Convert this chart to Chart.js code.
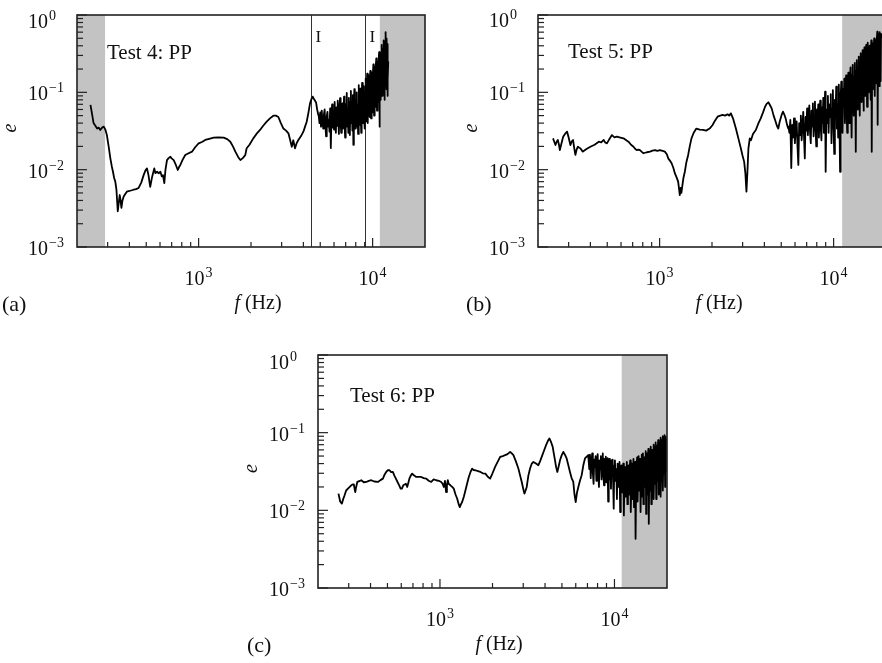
<!DOCTYPE html>
<html lang="en">
<head>
<meta charset="UTF-8">
<title>e against f, tests 4 to 6</title>
<script src="https://cdn.jsdelivr.net/npm/chart.js@4"></script>
<style>
  body { margin: 0; background: #fff; width: 882px; height: 663px; overflow: hidden; position: relative; }
  canvas { position: absolute; }
</style>
</head>
<body>
<canvas id="panelA" width="441" height="330" style="left:0;top:0"></canvas>
<canvas id="panelB" width="460" height="330" style="left:441px;top:0"></canvas>
<canvas id="panelC" width="460" height="333" style="left:220px;top:330px"></canvas>
<script>
// axis ticks
const decadesY = [1e-3, 1e-2, 1e-1, 1];
const decadeYLabels = ['\u22123', '\u22122', '\u22121', '0'];
const decadesX = [1e3, 1e4];
const decadeXLabels = ['3', '4'];
const minorX = [300, 400, 500, 600, 700, 800, 900, 2000, 3000, 4000, 5000, 6000, 7000, 8000, 9000];

// [f (Hz), e]
const test4 = [
  [239,.069],[245,.050],[249,.040],[255,.037],[261,.034],[267,.035],[272,.0326],[279,.035],[285,.036],[291,.033],
  [297,.028],[304,.020],[311,.014],[317,.011],[322,.0094],[327,.0078],[332,.0070],[337,.0055],[343,.0029],[348,.0038],
  [352,.0047],[356,.0040],[360,.0032],[365,.0040],[371,.0045],[378,.0048],[387,.0052],[400,.0053],[423,.0055],[437,.0056],
  [452,.0058],[468,.0068],[483,.0085],[495,.0098],[505,.0104],[515,.0085],[527,.0060],[540,.0080],[556,.0104],[565,.0090],
  [577,.0094],[590,.0090],[603,.0094],[614,.0082],[624,.0085],[635,.0067],[645,.0100],[658,.0133],[670,.0140],[688,.0147],
  [700,.0140],[719,.0133],[740,.0115],[759,.0099],[772,.0108],[785,.0115],[810,.0135],[838,.0155],[870,.0162],[916,.0171],
  [955,.0195],[1000,.0219],[1045,.0228],[1092,.0242],[1150,.0250],[1221,.0259],[1300,.0262],[1393,.0259],[1460,.0248],[1521,.023],
  [1575,.020],[1626,.0171],[1690,.0145],[1738,.0133],[1800,.0142],[1855,.0155],[1888,.0189],[1960,.021],[2062,.0254],[2150,.029],
  [2254,.0326],[2350,.037],[2461,.0417],[2570,.046],[2688,.0499],[2780,.050],[2873,.048],[2970,.040],[3071,.034],[3180,.032],
  [3283,.0295],[3360,.024],[3431,.0198],[3500,.024],[3581,.0189],[3660,.022],[3743,.0242],[3870,.027],[4000,.031],[4090,.036],
  [4180,.0417],[4280,.055],[4368,.072],[4450,.082],[4525,.088],[4630,.080],[4731,.074],[4800,.060],[4876,.051],
  [4900,.050],[4950,.040],[5000,.055],[5050,.036],[5100,.058],[5150,.042],[5200,.034],[5250,.052],[5300,.060],[5350,.038],
  [5400,.027],[5450,.048],[5500,.056],[5550,.036],[5600,.044],[5650,.031],[5700,.062],[5750,.019],[5800,.048],[5850,.070],
  [5900,.035],[5950,.058],[6000,.033],[6050,.075],[6100,.042],[6150,.030],[6200,.064],[6250,.037],[6300,.078],[6350,.046],
  [6400,.029],[6450,.066],[6500,.084],[6550,.040],[6600,.030],[6650,.060],[6700,.072],[6750,.034],[6800,.052],[6850,.088],
  [6900,.038],[6950,.026],[7000,.070],[7050,.045],[7100,.098],[7150,.036],[7200,.062],[7250,.030],[7300,.085],[7350,.042],
  [7400,.028],[7450,.075],[7500,.104],[7550,.040],[7600,.066],[7650,.032],[7700,.092],[7750,.021],[7800,.058],[7850,.110],
  [7900,.044],[7950,.034],[8000,.080],[8050,.048],[8100,.100],[8150,.036],[8200,.070],[8250,.029],[8300,.124],[8350,.050],
  [8400,.038],[8450,.092],[8500,.112],[8550,.046],[8600,.030],[8650,.078],[8700,.132],[8750,.052],[8800,.040],[8850,.100],
  [8900,.120],[8950,.045],[9000,.034],[9050,.085],[9100,.150],[9150,.058],[9200,.042],[9250,.110],[9300,.175],[9350,.066],
  [9400,.040],[9450,.130],[9500,.165],[9550,.060],[9600,.048],[9650,.140],[9700,.190],[9750,.072],[9800,.046],[9850,.150],
  [9900,.180],[9950,.080],[10000,.055],[10050,.170],[10100,.230],[10150,.090],[10200,.050],[10250,.180],[10300,.210],[10350,.095],
  [10400,.065],[10450,.220],[10500,.275],[10550,.110],[10600,.058],[10650,.200],[10700,.250],[10750,.120],[10800,.075],[10850,.260],
  [10900,.330],[10950,.036],[11000,.150],[11050,.300],[11100,.120],[11150,.080],[11200,.330],[11250,.410],[11300,.140],[11350,.090],
  [11400,.360],[11450,.200],[11500,.100],[11550,.420],[11600,.470],[11650,.160],[11700,.080],[11750,.450],[11800,.250],[11850,.120],
  [11900,.600],[11950,.200],[12000,.110],[12050,.500],[12100,.300],[12150,.090],[12200,.420],[12250,.150],[12300,.250]
];

const test5 = [
  [244,.0254],[248,.023],[252,.0208],[256,.023],[260,.0242],[264,.021],[267,.0179],[273,.022],[279,.0267],[286,.029],
  [294,.031],[300,.026],[307,.0208],[312,.023],[318,.0242],[323,.019],[328,.0155],[333,.018],[339,.0198],[345,.0192],
  [350,.0189],[356,.018],[361,.0171],[380,.0185],[400,.0198],[423,.021],[447,.023],[462,.0225],[477,.0242],[487,.0225],
  [498,.0219],[515,.025],[532,.028],[550,.0262],[568,.0267],[595,.026],[620,.0254],[640,.0242],[662,.023],[685,.021],
  [708,.0198],[725,.0185],[739,.0179],[755,.0182],[771,.0179],[790,.017],[807,.0163],[845,.0168],[881,.0171],[910,.0176],
  [940,.0179],[970,.0175],[1004,.0179],[1040,.0175],[1072,.0171],[1100,.0158],[1121,.014],[1148,.013],[1172,.0121],[1200,.0105],
  [1223,.009],[1250,.008],[1278,.007],[1295,.0055],[1306,.0047],[1320,.0058],[1334,.005],[1348,.006],[1370,.0078],[1396,.0094],
  [1425,.0125],[1459,.0155],[1490,.020],[1524,.0254],[1570,.030],[1626,.034],[1700,.033],[1778,.0326],[1850,.032],[1938,.034],
  [2016,.0378],[2080,.043],[2153,.0484],[2230,.050],[2300,.051],[2380,.050],[2455,.052],[2510,.050],[2568,.0535],[2650,.045],
  [2744,.034],[2840,.025],[2929,.0189],[3000,.015],[3060,.0127],[3110,.009],[3155,.0052],[3200,.010],[3239,.0189],[3297,.0254],
  [3350,.024],[3440,.029],[3572,.0326],[3700,.040],[3811,.0461],[3930,.055],[4036,.0652],[4120,.071],[4217,.0743],[4310,.068],
  [4406,.062],[4520,.050],[4645,.0417],[4720,.037],[4809,.034],[4890,.041],[4961,.0461],[5040,.052],[5116,.0562],[5200,.052],
  [5300,.0461],[5400,.038],[5485,.034],
  [5500,.036],[5570,.030],[5640,.044],[5710,.0105],[5780,.038],[5850,.026],[5920,.046],[5990,.022],[6060,.034],[6130,.042],
  [6200,.020],[6270,.0115],[6340,.040],[6410,.028],[6480,.050],[6550,.024],[6620,.036],[6690,.056],[6760,.026],[6830,.014],
  [6900,.048],[6970,.032],[7040,.062],[7110,.028],[7180,.044],[7250,.068],[7320,.030],[7390,.022],[7460,.058],[7530,.036],
  [7600,.072],[7670,.027],[7740,.046],[7810,.076],[7880,.032],[7950,.020],[8020,.060],[8090,.038],[8160,.070],[8230,.026],
  [8300,.050],[8370,.078],[8440,.034],[8510,.024],[8580,.064],[8650,.040],[8720,.085],[8790,.030],[8860,.056],[8930,.102],
  [9000,.0094],[9090,.060],[9180,.040],[9270,.090],[9360,.030],[9450,.070],[9540,.048],[9630,.095],[9720,.022],[9810,.062],
  [9900,.107],[9990,.036],[10080,.016],[10170,.080],[10260,.050],[10350,.118],[10440,.034],[10530,.072],[10620,.026],[10710,.126],
  [10800,.044],[10890,.0094],[10980,.090],[11070,.137],[11160,.048],[11250,.030],[11340,.110],[11430,.070],[11520,.150],[11610,.040],
  [11700,.095],[11790,.165],[11880,.055],[11970,.030],[12060,.130],[12150,.180],[12240,.065],[12330,.040],[12420,.150],[12510,.210],
  [12600,.075],[12690,.026],[12780,.170],[12870,.226],[12960,.090],[13050,.050],[13140,.160],[13230,.240],[13320,.100],[13410,.017],
  [13500,.190],[13590,.260],[13680,.110],[13770,.060],[13860,.210],[13950,.290],[14040,.120],[14130,.050],[14220,.240],[14310,.320],
  [14400,.140],[14490,.075],[14580,.260],[14670,.350],[14760,.160],[14850,.058],[14940,.280],[15030,.380],[15120,.170],[15210,.090],
  [15300,.320],[15390,.410],[15480,.190],[15570,.065],[15660,.300],[15750,.440],[15840,.200],[15930,.100],[16020,.360],[16110,.400],
  [16200,.210],[16290,.080],[16380,.340],[16470,.470],[16560,.017],[16650,.260],[16740,.430],[16830,.220],[16920,.110],[17010,.380],
  [17100,.500],[17190,.240],[17280,.090],[17370,.420],[17460,.470],[17550,.260],[17640,.130],[17730,.460],[17820,.610],[17910,.038],
  [18000,.300],[18090,.560],[18180,.250],[18270,.120],[18360,.480],[18450,.600],[18540,.270],[18630,.140],[18720,.520],[18810,.580]
];

const test6 = [
  [262,.0164],[268,.013],[274,.0122],[279,.014],[284,.0156],[290,.018],[297,.019],[304,.020],[310,.021],[316,.0215],
  [321,.0215],[324,.019],[327,.0172],[331,.020],[336,.0232],[345,.0238],[354,.0244],[366,.023],[378,.0232],[391,.024],
  [404,.0244],[420,.0235],[441,.0232],[456,.0245],[471,.0256],[482,.029],[492,.0312],[503,.033],[514,.0328],[525,.031],
  [537,.0312],[548,.028],[559,.0256],[572,.023],[584,.021],[595,.019],[605,.019],[616,.021],[627,.0215],[638,.022],
  [649,.020],[660,.023],[668,.0256],[680,.028],[693,.0297],[712,.028],[731,.0269],[755,.027],[780,.0269],[807,.026],
  [834,.0256],[862,.024],[891,.0232],[920,.025],[951,.0244],[985,.024],[1016,.0232],[1035,.022],[1052,.020],[1068,.024],
  [1084,.0172],[1096,.021],[1109,.0244],[1120,.022],[1148,.021],[1175,.020],[1200,.019],[1228,.016],[1254,.0142],[1280,.012],
  [1299,.011],[1320,.012],[1340,.0128],[1370,.015],[1400,.0181],[1430,.022],[1463,.0269],[1495,.031],[1528,.0345],[1560,.033],
  [1596,.0328],[1650,.032],[1706,.0312],[1760,.030],[1821,.0297],[1880,.027],[1938,.0256],[2000,.030],[2070,.0362],[2140,.042],
  [2213,.0487],[2290,.050],[2361,.0513],[2440,.053],[2523,.0566],[2580,.054],[2636,.0513],[2720,.043],[2814,.0345],[2880,.028],
  [2942,.0232],[3000,.019],[3047,.0164],[3095,.018],[3142,.020],[3210,.028],[3283,.0345],[3360,.040],[3431,.042],[3550,.040],
  [3664,.0381],[3750,.043],[3828,.0487],[3940,.058],[4055,.069],[4150,.078],[4236,.0841],[4330,.076],[4426,.0656],[4490,.054],
  [4560,.0442],[4630,.036],[4705,.0312],[4790,.037],[4875,.0442],[4980,.051],[5093,.0566],[5200,.052],[5321,.0465],[5440,.038],
  [5559,.0312],[5680,.026],[5808,.0232],[5900,.016],[5995,.0128],[6100,.017],[6209,.020],[6340,.024],[6486,.0283],[6630,.038],
  [6776,.0465],[6930,.049],[7079,.0513],
  [7100,.046],[7170,.034],[7240,.052],[7310,.026],[7380,.040],[7450,.054],[7520,.030],[7590,.022],[7660,.045],[7730,.036],
  [7800,.050],[7870,.024],[7940,.038],[8010,.053],[8080,.029],[8150,.020],[8220,.044],[8290,.034],[8360,.050],[8430,.025],
  [8500,.040],[8570,.054],[8640,.028],[8710,.021],[8780,.046],[8850,.032],[8920,.049],[8990,.023],[9060,.037],[9130,.047],
  [9200,.013],[9270,.036],[9340,.046],[9410,.025],[9480,.040],[9550,.019],[9620,.044],[9690,.030],[9760,.045],[9830,.022],
  [9900,.0105],[9970,.038],[10060,.044],[10150,.024],[10240,.034],[10330,.014],[10420,.040],[10510,.020],[10600,.030],[10690,.042],
  [10780,.0095],[10870,.028],[10960,.038],[11050,.017],[11140,.032],[11230,.040],[11320,.0086],[11410,.026],[11500,.036],[11590,.015],
  [11680,.030],[11770,.042],[11860,.012],[11950,.024],[12040,.038],[12130,.016],[12220,.034],[12310,.044],[12400,.0095],[12490,.022],
  [12580,.040],[12670,.014],[12760,.030],[12850,.046],[12940,.011],[13030,.026],[13120,.042],[13210,.0043],[13300,.020],[13390,.036],
  [13480,.048],[13570,.013],[13660,.028],[13750,.050],[13840,.018],[13930,.034],[14020,.046],[14110,.0095],[14200,.026],[14290,.052],
  [14380,.015],[14470,.036],[14560,.054],[14650,.012],[14740,.024],[14830,.048],[14920,.020],[15010,.040],[15100,.058],[15190,.009],
  [15280,.030],[15370,.054],[15460,.016],[15550,.038],[15640,.062],[15730,.0067],[15820,.028],[15910,.058],[16000,.018],[16090,.042],
  [16180,.066],[16270,.012],[16360,.032],[16450,.060],[16540,.020],[16630,.045],[16720,.070],[16810,.014],[16900,.034],[16990,.064],
  [17080,.022],[17170,.048],[17260,.075],[17350,.014],[17440,.036],[17530,.068],[17620,.024],[17710,.052],[17800,.080],[17890,.016],
  [17980,.040],[18070,.074],[18160,.026],[18250,.056],[18340,.086],[18430,.015],[18520,.044],[18610,.080],[18700,.028],[18790,.060],
  [18880,.090],[18970,.018],[19060,.048],[19150,.084],[19240,.030],[19330,.064],[19420,.093],[19510,.020],[19600,.052],[19690,.088],
  [19780,.032],[19870,.068],[19960,.085]
];

// shaded bands and marker lines (Hz)
const shadeA = [[200, 290], [11000, 20000]];
const shadeB = [[11200, 20000]];
const shadeC = [[11000, 20000]];
const markLinesA = [4400, 9050];

const serif = '"Liberation Serif", "Times New Roman", serif';

function pow10(ctx, x, y, exp, centred) {
  ctx.font = '20px ' + serif;
  const wb = ctx.measureText('10').width;
  ctx.font = '14px ' + serif;
  const we = ctx.measureText(exp).width;
  const x0 = centred ? x - (wb + we + 1) / 2 : x;
  ctx.textAlign = 'left';
  ctx.textBaseline = 'alphabetic';
  ctx.font = '20px ' + serif;
  ctx.fillText('10', x0, y);
  ctx.font = '14px ' + serif;
  ctx.fillText(exp, x0 + wb + 1, y - 8);
}

function line(ctx, x0, y0, x1, y1) {
  ctx.beginPath();
  ctx.moveTo(x0, y0);
  ctx.lineTo(x1, y1);
  ctx.stroke();
}

function decoPlugin(cfg) {
  return {
    id: 'deco',
    beforeDatasetsDraw(chart) {
      const { ctx, chartArea: a, scales: { x } } = chart;
      ctx.save();
      ctx.fillStyle = '#c3c3c3';
      cfg.shade.forEach(([f0, f1]) => {
        const x0 = Math.max(a.left, x.getPixelForValue(f0));
        const x1 = Math.min(a.right, x.getPixelForValue(f1));
        ctx.fillRect(x0, a.top, x1 - x0, a.bottom - a.top);
      });
      ctx.strokeStyle = '#333';
      ctx.lineWidth = 1;
      ctx.fillStyle = '#111';
      ctx.font = '17px ' + serif;
      (cfg.marks || []).forEach(f => {
        const px = Math.round(x.getPixelForValue(f)) + 0.5;
        line(ctx, px, a.top, px, a.bottom);
        ctx.fillText('I', px + 4, a.top + 27);
      });
      ctx.restore();
    },
    afterDatasetsDraw(chart) {
      const { ctx, chartArea: a, scales: { x, y } } = chart;
      ctx.save();
      ctx.strokeStyle = '#222';
      ctx.fillStyle = '#111';
      // ticks
      ctx.lineWidth = 1.2;
      decadesY.forEach((d, i) => {
        const py = y.getPixelForValue(d);
        line(ctx, a.left, py, a.left + 10, py);
        if (i < decadesY.length - 1) {
          for (let k = 2; k <= 9; k++) {
            const pm = y.getPixelForValue(d * k);
            line(ctx, a.left, pm, a.left + 6, pm);
          }
        }
        pow10(ctx, a.left - 49, py + (i === decadesY.length - 1 ? cfg.topShift : 8), decadeYLabels[i], false);
      });
      decadesX.forEach((d, i) => {
        const px = x.getPixelForValue(d);
        line(ctx, px, a.bottom, px, a.bottom - 9);
        pow10(ctx, px, a.bottom + 38, decadeXLabels[i], true);
      });
      minorX.forEach(f => {
        const px = x.getPixelForValue(f);
        line(ctx, px, a.bottom, px, a.bottom - 5);
      });
      // frame
      ctx.lineWidth = 1.6;
      ctx.strokeRect(a.left, a.top, a.right - a.left, a.bottom - a.top);
      // texts
      ctx.textAlign = 'left';
      ctx.textBaseline = 'alphabetic';
      ctx.font = '21px ' + serif;
      ctx.fillText(cfg.title, a.left + cfg.titleDx, a.top + cfg.titleDy);
      ctx.font = '22px ' + serif;
      ctx.fillText(cfg.tag, a.left - cfg.tagDx, a.bottom + 64);
      ctx.font = 'italic 20px ' + serif;
      const wf = ctx.measureText('f').width;
      ctx.font = '20px ' + serif;
      const wr = ctx.measureText(' (Hz)').width;
      const cx = a.left + 181 - (wf + wr) / 2;
      ctx.font = 'italic 20px ' + serif;
      ctx.fillText('f', cx, a.bottom + 62);
      ctx.font = '20px ' + serif;
      ctx.fillText(' (Hz)', cx + wf, a.bottom + 62);
      ctx.translate(a.left - 66, (a.top + a.bottom) / 2 - 3);
      ctx.rotate(-Math.PI / 2);
      ctx.textAlign = 'center';
      ctx.textBaseline = 'middle';
      ctx.font = 'italic 20px ' + serif;
      ctx.fillText('e', 0, 0);
      ctx.restore();
    }
  };
}

function makePanel(id, series, area, cfg) {
  const canvas = document.getElementById(id);
  const W = canvas.width, H = canvas.height;
  return new Chart(canvas, {
    type: 'line',
    data: {
      datasets: [{
        data: series.map(([f, e]) => ({ x: f, y: e })),
        borderColor: '#000',
        borderWidth: 1.8,
        borderJoinStyle: 'round',
        pointRadius: 0,
        tension: 0,
        fill: false
      }]
    },
    options: {
      responsive: false,
      animation: false,
      events: [],
      layout: { padding: { left: 0, top: area.top, right: W - area.right, bottom: 0 } },
      plugins: { legend: { display: false }, tooltip: { enabled: false } },
      scales: {
        x: {
          type: 'logarithmic', min: 200, max: 20000,
          ticks: { display: false }, grid: { display: false }, border: { display: false },
          afterFit: s => { s.height = H - area.bottom; }
        },
        y: {
          type: 'logarithmic', min: 1e-3, max: 1,
          ticks: { display: false }, grid: { display: false }, border: { display: false },
          afterFit: s => { s.width = area.left; }
        }
      }
    },
    plugins: [decoPlugin(cfg)]
  });
}

makePanel('panelA', test4, { left: 77, top: 15, right: 425, bottom: 247 },
  { shade: shadeA, marks: markLinesA, title: 'Test 4: PP', titleDx: 30, titleDy: 44, tag: '(a)', tagDx: 75, topShift: 13 });
makePanel('panelB', test5, { left: 97, top: 15, right: 445, bottom: 247 },
  { shade: shadeB, title: 'Test 5: PP', titleDx: 30, titleDy: 43, tag: '(b)', tagDx: 72, topShift: 12 });
makePanel('panelC', test6, { left: 98, top: 25, right: 447, bottom: 258 },
  { shade: shadeC, title: 'Test 6: PP', titleDx: 32, titleDy: 47, tag: '(c)', tagDx: 71, topShift: 14 });
</script>
</body>
</html>
